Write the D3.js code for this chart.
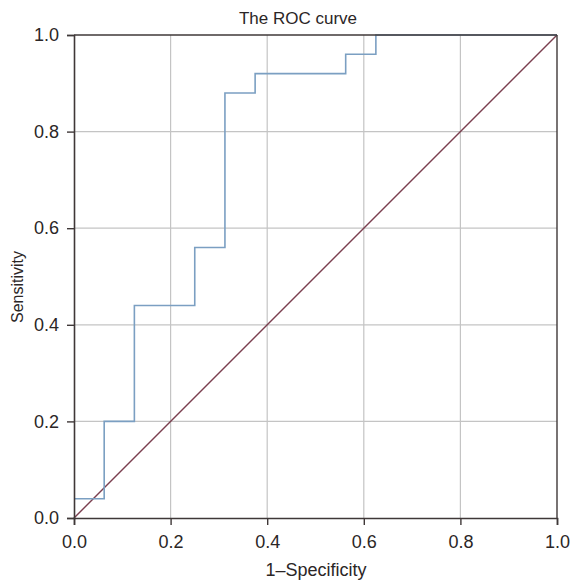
<!DOCTYPE html>
<html>
<head>
<meta charset="utf-8">
<script src="https://cdn.jsdelivr.net/npm/d3@7"></script>
<style>
  body { margin: 0; background: #fff; }
  text { font-family: "Liberation Sans", Arial, sans-serif; fill: #2b2626; }
</style>
</head>
<body>
<svg id="roc" width="572" height="580"></svg>
<script>
// ROC step curve (1-specificity, sensitivity)
const fpr = [0, 0.0625, 0.125, 0.25, 0.3125, 0.375, 0.5625, 0.625, 1]
const tpr = [0.04, 0.2, 0.44, 0.56, 0.88, 0.92, 0.96, 1, 1]
const ticks = [0, 0.2, 0.4, 0.6, 0.8, 1]
const diagonal = [0, 1]

const svg = d3.select('#roc')
const margin = { top: 35, right: 15, bottom: 62, left: 74 }
const width = +svg.attr('width') - margin.left - margin.right
const height = +svg.attr('height') - margin.top - margin.bottom

const g = svg.append('g').attr('transform', 'translate(' + margin.left + ',' + margin.top + ')')

const x = d3.scaleLinear().domain([0, 1]).range([0, width])
const y = d3.scaleLinear().domain([0, 1]).range([height, 0])

// grid
g.append('g')
  .selectAll('line')
  .data(ticks.slice(1, -1))
  .enter()
  .append('line')
  .attr('x1', (d) => x(d))
  .attr('x2', (d) => x(d))
  .attr('y1', 0)
  .attr('y2', height)
  .attr('stroke', '#c4c4c4')
  .attr('stroke-width', 1.2)
g.append('g')
  .selectAll('line')
  .data(ticks.slice(1, -1))
  .enter()
  .append('line')
  .attr('y1', (d) => y(d))
  .attr('y2', (d) => y(d))
  .attr('x1', 0)
  .attr('x2', width)
  .attr('stroke', '#c4c4c4')
  .attr('stroke-width', 1.2)

// reference line
g.append('line')
  .attr('x1', x(diagonal[0]))
  .attr('y1', y(diagonal[0]))
  .attr('x2', x(diagonal[1]))
  .attr('y2', y(diagonal[1]))
  .attr('stroke', '#7b3f4f')
  .attr('stroke-width', 1.4)

// ROC curve
const pts = fpr.map((f, i) => [f, tpr[i]])
const line = d3
  .line()
  .x((d) => x(d[0]))
  .y((d) => y(d[1]))
  .curve(d3.curveStepAfter)
g.append('path')
  .datum(pts)
  .attr('fill', 'none')
  .attr('stroke', '#7b9fc2')
  .attr('stroke-width', 1.6)
  .attr('d', line)

// frame top / right
g.append('line').attr('x1', 0).attr('x2', width).attr('y1', 0).attr('y2', 0)
  .attr('stroke', '#3f3838').attr('stroke-width', 1.4)
g.append('line').attr('x1', width).attr('x2', width).attr('y1', 0).attr('y2', height)
  .attr('stroke', '#3f3838').attr('stroke-width', 1.4)

// axes
const fmt = d3.format('.1f')
const xAxis = g.append('g')
  .attr('transform', 'translate(0,' + height + ')')
  .call(d3.axisBottom(x).tickValues(ticks).tickFormat(fmt).tickSize(7).tickPadding(10))
const yAxis = g.append('g')
  .call(d3.axisLeft(y).tickValues(ticks).tickFormat(fmt).tickSize(7).tickPadding(8))

;[xAxis, yAxis].forEach((a) => {
  a.select('.domain').attr('stroke', '#3f3838').attr('stroke-width', 1.6)
  a.selectAll('.tick line').attr('stroke', '#3f3838').attr('stroke-width', 1.4)
  a.selectAll('.tick text')
    .style('font-family', '"Liberation Sans", Arial, sans-serif')
    .style('font-size', '18px')
    .attr('fill', '#2b2626')
})

// titles
svg.append('text')
  .attr('x', 298)
  .attr('y', 24)
  .attr('text-anchor', 'middle')
  .style('font-size', '17px')
  .text('The ROC curve')

svg.append('text')
  .attr('x', 316)
  .attr('y', 576)
  .attr('text-anchor', 'middle')
  .style('font-size', '18px')
  .text('1–Specificity')

svg.append('text')
  .attr('transform', 'translate(23,287)rotate(-90)')
  .attr('text-anchor', 'middle')
  .style('font-size', '16px')
  .text('Sensitivity')
</script>
</body>
</html>
